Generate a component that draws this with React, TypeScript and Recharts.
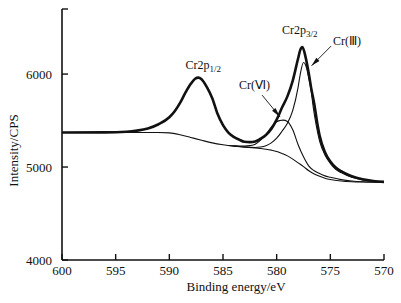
import { LineChart, Line, XAxis, YAxis, ReferenceLine, ReferenceDot } from 'recharts'

// Binding energy (eV) / intensity (CPS)
const envelopeEnergy = [600, 596, 594, 593, 592, 591, 590, 589.5, 589, 588.5, 588, 587.6, 587.3, 587, 586.5, 586, 585.5, 585, 584.5, 584, 583.5, 583, 582.5, 582, 581.5, 581, 580.5, 580, 579.5, 579, 578.5, 578, 577.8, 577.6, 577.3, 577, 576.8, 576.5, 576.2, 576, 575.5, 575, 574.5, 574, 573.5, 573, 572, 571, 570]
const envelopeCounts = [5372, 5373, 5380, 5392, 5415, 5460, 5535, 5600, 5690, 5800, 5895, 5950, 5962, 5945, 5860, 5740, 5570, 5450, 5370, 5325, 5295, 5272, 5268, 5275, 5305, 5345, 5410, 5510, 5640, 5760, 5930, 6170, 6260, 6290, 6180, 6000, 5860, 5680, 5460, 5340, 5160, 5060, 4995, 4955, 4925, 4900, 4868, 4850, 4840]

const backgroundEnergy = [600, 594, 591, 590, 589, 588, 587, 586, 585, 584, 583, 582, 581, 580.5, 580, 579.5, 579, 578.5, 578, 577.5, 577, 576.5, 576, 575.5, 575, 574, 573, 572, 571, 570]
const backgroundCounts = [5372, 5372, 5372, 5368, 5348, 5318, 5288, 5260, 5240, 5225, 5214, 5204, 5192, 5182, 5168, 5145, 5120, 5085, 5045, 5005, 4960, 4925, 4900, 4880, 4866, 4850, 4842, 4839, 4838, 4838]

const cr6Energy = [584.5, 584, 583, 582.5, 582, 581.5, 581, 580.5, 580, 579.7, 579.4, 579, 578.5, 578, 577.5, 577, 576.5, 576, 575.5, 575, 574, 573, 572, 571, 570]
const cr6Counts = [5232, 5228, 5225, 5230, 5245, 5290, 5350, 5430, 5488, 5500, 5505, 5490, 5400, 5240, 5110, 5010, 4960, 4930, 4905, 4890, 4865, 4850, 4842, 4839, 4838]

const cr3Energy = [584, 583, 582, 581.5, 581, 580.5, 580, 579.5, 579, 578.5, 578, 577.8, 577.5, 577.2, 577, 576.8, 576.6, 576.3, 576, 575.5, 575, 574.5, 574, 573, 572, 571, 570]
const cr3Counts = [5226, 5216, 5210, 5215, 5230, 5260, 5310, 5385, 5470, 5610, 5860, 6000, 6125, 6060, 5950, 5830, 5650, 5440, 5280, 5130, 5040, 4975, 4940, 4890, 4862, 4848, 4840]

const xTicks = [600, 595, 590, 585, 580, 575, 570]
const yTicks = [4000, 5000, 6000, 6700]
const yLabelled = [4000, 5000, 6000]

const FONT = '"Liberation Serif", "Times New Roman", serif'

function zip(energy: number[], counts: number[]) {
  return energy.map((e, i) => ({ e, v: counts[i] }))
}

const label = (main: string, sub?: string) => (p: any) => (
  <text x={p.cx} y={p.cy} fontFamily={FONT} fontSize={12} fill="#111">
    {main}
    {sub && <tspan dy={3} fontSize={9}>{sub}</tspan>}
  </text>
)

const arrow = (head: number) => (p: any) => {
  const { x1, y1, x2, y2 } = p
  const dx = x2 - x1
  const dy = y2 - y1
  const len = Math.hypot(dx, dy) || 1
  const ux = dx / len
  const uy = dy / len
  const bx = x2 - ux * head
  const by = y2 - uy * head
  const w = 2.2
  return (
    <g>
      <line x1={x1} y1={y1} x2={x2} y2={y2} stroke="#111" strokeWidth={0.9} />
      <polygon
        points={`${x2},${y2} ${bx - uy * w},${by + ux * w} ${bx + uy * w},${by - ux * w}`}
        fill="#111"
      />
    </g>
  )
}

export default function App() {
  return (
    <div style={{ position: 'absolute', left: 0, top: 0, background: '#fff' }}>
      <LineChart width={401} height={303} margin={{ top: 9, right: 17, bottom: 0, left: 0 }}>
        <XAxis
          dataKey="e"
          type="number"
          domain={[570, 600]}
          reversed
          ticks={xTicks}
          allowDataOverflow
          height={43}
          tickSize={-6}
          tickMargin={12}
          axisLine={{ stroke: '#111', strokeWidth: 1.6 }}
          tickLine={{ stroke: '#111', strokeWidth: 1.4 }}
          tick={{ fill: '#111', fontSize: 13, fontFamily: FONT }}
          label={({ viewBox }: any) => (
            <text x={viewBox.x + viewBox.width / 2 + 13} y={viewBox.y + 31} textAnchor="middle" fontFamily={FONT} fontSize={13} fill="#111">
              Binding energy/eV
            </text>
          )}
        />
        <YAxis
          type="number"
          domain={[4000, 6700]}
          ticks={yTicks}
          allowDataOverflow
          width={62}
          tickSize={-6}
          tickMargin={16}
          tickFormatter={(v: number) => (yLabelled.includes(v) ? String(v) : '')}
          axisLine={{ stroke: '#111', strokeWidth: 1.6 }}
          tickLine={{ stroke: '#111', strokeWidth: 1.4 }}
          tick={{ fill: '#111', fontSize: 13, fontFamily: FONT }}
          label={({ viewBox }: any) => {
            const cx = viewBox.x + 13
            const cy = viewBox.y + viewBox.height / 2 + 16
            return (
              <text x={cx} y={cy} textAnchor="middle" dominantBaseline="central" transform={`rotate(-90 ${cx} ${cy})`} fontFamily={FONT} fontSize={13} fill="#111">
                Intensity/CPS
              </text>
            )
          }}
        />
        <Line data={zip(backgroundEnergy, backgroundCounts)} dataKey="v" type="monotone" stroke="#111" strokeWidth={1.1} dot={false} isAnimationActive={false} />
        <Line data={zip(cr6Energy, cr6Counts)} dataKey="v" type="monotone" stroke="#111" strokeWidth={1.1} dot={false} isAnimationActive={false} />
        <Line data={zip(cr3Energy, cr3Counts)} dataKey="v" type="monotone" stroke="#111" strokeWidth={1.1} dot={false} isAnimationActive={false} />
        <Line data={zip(envelopeEnergy, envelopeCounts)} dataKey="v" type="monotone" stroke="#111" strokeWidth={2.6} dot={false} isAnimationActive={false} />

        <ReferenceLine segment={[{ x: 574.93, y: 6301 }, { x: 576.75, y: 6090 }]} shape={arrow(9)} />
        <ReferenceLine segment={[{ x: 581.36, y: 5774 }, { x: 579.68, y: 5538 }]} shape={arrow(10)} />

        <ReferenceDot x={588.5} y={6054} r={0} shape={label('Cr2p', '1/2')} />
        <ReferenceDot x={579.5} y={6430} r={0} shape={label('Cr2p', '3/2')} />
        <ReferenceDot x={574.75} y={6312} r={0} shape={label('Cr(Ⅲ)')} />
        <ReferenceDot x={583.5} y={5839} r={0} shape={label('Cr(Ⅵ)')} />
      </LineChart>
    </div>
  )
}
